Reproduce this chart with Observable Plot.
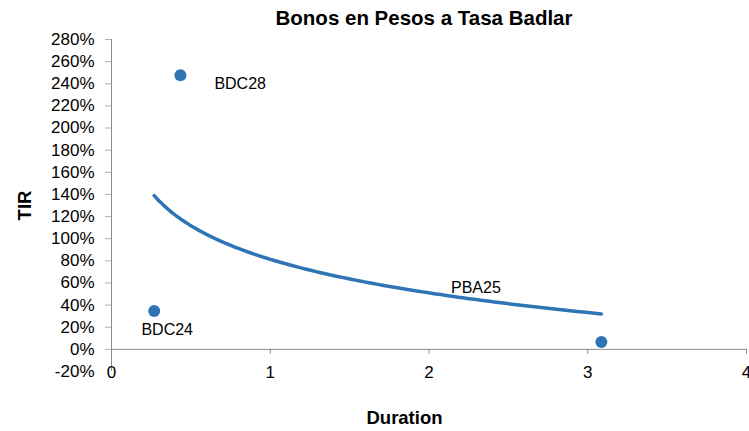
<!DOCTYPE html>
<html>
<head>
<meta charset="utf-8">
<script src="https://cdn.jsdelivr.net/npm/d3@7"></script>
<script src="https://cdn.jsdelivr.net/npm/@observablehq/plot@0.6"></script>
<style>
  html, body { margin: 0; padding: 0; background: #ffffff; }
  #chart { width: 749px; height: 431px; overflow: hidden; }
  svg { font-family: "Liberation Sans", Arial, Helvetica, sans-serif; }
</style>
</head>
<body>
<div id="chart"></div>
<script>
// ---- data ----
const bondNames = ["BDC28", "BDC24", "PBA25"];
const durationValues = [0.434, 0.269, 3.086];
const tirValues = [2.477, 0.346, 0.066];
const xTickValues = [0, 1, 2, 3, 4];
const yTickValues = [-0.2, 0, 0.2, 0.4, 0.6, 0.8, 1.0, 1.2, 1.4, 1.6, 1.8, 2.0, 2.2, 2.4, 2.6, 2.8];
const chartTitle = "Bonos en Pesos a Tasa Badlar";
const xTitle = "Duration";
const yTitle = "TIR";

const bonds = bondNames.map((name, i) => ({name, duration: durationValues[i], tir: tirValues[i]}));

// Logarithmic trend line (least-squares fit of tir on ln(duration)), as in the source chart
const lx = bonds.map(d => Math.log(d.duration));
const mx = d3.mean(lx), my = d3.mean(bonds, d => d.tir);
const slope = d3.sum(bonds, (d, i) => (lx[i] - mx) * (d.tir - my)) / d3.sum(lx, v => (v - mx) ** 2);
const intercept = my - slope * mx;
const [xMin, xMax] = d3.extent(bonds, d => d.duration);
const trend = d3.range(0, 101).map(k => {
  const x = xMin + (xMax - xMin) * k / 100;
  return {duration: x, tir: intercept + slope * Math.log(x)};
});

const pct = d => `${Math.round(d * 100)}%`;
const blue = "#2f75b6";
const axisGray = "#8c8c8c";

const chart = Plot.plot({
  width: 749,
  height: 431,
  marginTop: 39,
  marginBottom: 60,
  marginLeft: 111,
  marginRight: 3,
  style: {fontFamily: "'Liberation Sans', Arial, sans-serif", background: "#ffffff", overflow: "visible"},
  x: {domain: [0, 4], axis: null},
  y: {domain: [-0.2, 2.8], axis: null},
  marks: [
    // axis lines
    Plot.ruleX([0], {stroke: axisGray, strokeWidth: 1}),
    Plot.ruleY([0], {stroke: axisGray, strokeWidth: 1}),
    // x ticks hanging below the zero line
    Plot.ruleX(xTickValues.filter(v => v > 0), {x: d => d, y1: () => 0, y2: () => 0, insetBottom: -5, stroke: axisGray}),
    // y axis ticks + labels
    Plot.axisY({ticks: yTickValues.filter(v => v >= 0), tickSize: 6, tickPadding: 11, tickFormat: pct,
      fontSize: 17, stroke: "#b0b0b0", color: "#000", label: null}),
    Plot.axisY({ticks: yTickValues.filter(v => v < 0), tickSize: 0, tickPadding: 17, tickFormat: pct,
      fontSize: 17, color: "#000", label: null}),
    // x axis labels at bottom of plot area
    Plot.axisX({ticks: xTickValues, tickSize: 0, tickPadding: 0, dy: -6, tickFormat: d => String(d),
      fontSize: 17, color: "#000", label: null}),
    // trend line
    Plot.line(trend, {x: "duration", y: "tir", stroke: blue, strokeWidth: 3.5}),
    // points
    Plot.dot(bonds, {x: "duration", y: "tir", r: 6, fill: blue, stroke: "none"}),
    // point labels
    Plot.text(bonds.filter(d => d.name === "BDC28"), {x: "duration", y: "tir", text: "name", dx: 34, dy: 8.5,
      textAnchor: "start", fontSize: 16, fill: "#000"}),
    Plot.text(bonds.filter(d => d.name === "BDC24"), {x: "duration", y: "tir", text: "name", dx: 13, dy: 19,
      textAnchor: "middle", fontSize: 16, fill: "#000"}),
    Plot.text(bonds.filter(d => d.name === "PBA25"), {x: "duration", y: "tir", text: "name", dx: -125.5, dy: -54,
      textAnchor: "middle", fontSize: 16, fill: "#000"}),
    // titles
    Plot.text([chartTitle], {frameAnchor: "top", dx: -5, dy: -21, lineAnchor: "middle",
      fontSize: 20.5, fontWeight: "bold", fill: "#000"}),
    Plot.text([xTitle], {frameAnchor: "bottom", dx: -24.5, dy: 47, lineAnchor: "middle",
      fontSize: 18.5, fontWeight: "bold", fill: "#000"}),
    Plot.text([yTitle], {frameAnchor: "left", dx: -86, rotate: -90, lineAnchor: "middle", textAnchor: "middle",
      fontSize: 18.5, fontWeight: "bold", fill: "#000"})
  ]
});
document.getElementById("chart").appendChild(chart);
</script>
</body>
</html>
